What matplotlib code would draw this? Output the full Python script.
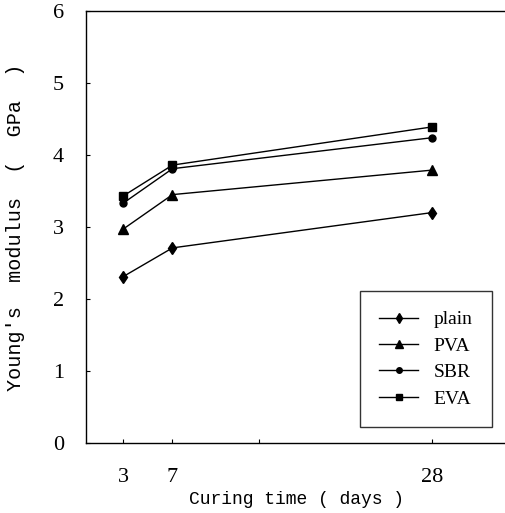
import numpy as np
import matplotlib.pyplot as plt

days = [3, 7, 28]
plain = [2.31, 2.71, 3.20]
pva = [2.97, 3.45, 3.79]
sbr = [3.33, 3.81, 4.24]
eva = [3.43, 3.86, 4.39]

series = [("plain", plain, "d", 6), ("PVA", pva, "^", 7),
          ("SBR", sbr, "o", 5), ("EVA", eva, "s", 6)]

fig = plt.figure(figsize=(5.06, 5.13), dpi=100)
ax = fig.add_axes([0.170, 0.1365, 0.830, 0.842])

for name, vals, mk, ms in series:
    ax.plot(days, vals, color="black", lw=1.0, marker=mk, markersize=ms, label=name)

ax.set_xlim(0, 34)
ax.set_ylim(0, 6)
ax.set_xticks([3, 7, 14, 28])
ax.set_xticklabels(["3", "7", "", "28"])
ax.set_yticks(range(7))
ax.tick_params(direction="in", length=3, width=0.8, labelsize=16)
ax.tick_params(axis="x", pad=18)
ax.tick_params(axis="y", pad=16)
for lab in ax.get_xticklabels() + ax.get_yticklabels():
    lab.set_family("Liberation Serif")

for s in ax.spines.values():
    s.set_linewidth(1.0)

ax.set_xlabel("Curing time ( days )", family="Liberation Mono", fontsize=13, labelpad=3)
ax.set_ylabel("Young's  modulus  (  GPa  )", family="Liberation Mono", fontsize=14.5, labelpad=20)

leg = ax.legend(loc="lower right", bbox_to_anchor=(0.967, 0.037), borderaxespad=0,
                prop={"family": "Liberation Serif", "size": 14},
                frameon=True, fancybox=False, edgecolor="black", handlelength=2.0,
                labelspacing=0.45, borderpad=1.0, markerscale=0.8, handletextpad=0.8)
leg.get_frame().set_linewidth(1.0)

fig.savefig("out.png", dpi=100)
